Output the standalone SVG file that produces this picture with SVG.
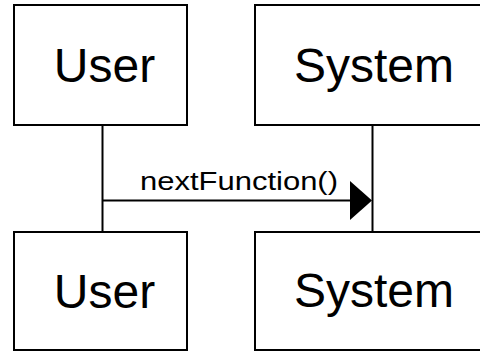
<svg xmlns="http://www.w3.org/2000/svg" width="480" height="352" viewBox="0 0 480 352">
<style>
.box{fill:#fff;stroke:#000;stroke-width:2}
.big{font-family:"Liberation Sans",Arial,sans-serif;font-size:48px;fill:#000;text-anchor:middle}
.lbl{font-family:"Liberation Sans",Arial,sans-serif;font-size:25px;fill:#000}
.line{stroke:#000;stroke-width:2;fill:none}
</style>
<rect width="480" height="352" fill="#fff"/>
<g id="connectors">
<line class="line" x1="102.5" y1="125" x2="102.5" y2="232"/>
<line class="line" x1="372.5" y1="125" x2="372.5" y2="232"/>
<line class="line" x1="102.5" y1="200.5" x2="352" y2="200.5"/>
<polygon points="350,181 372,200.5 350,220" fill="#000"/>
<text class="lbl" x="140" y="190" textLength="198" lengthAdjust="spacingAndGlyphs">nextFunction()</text>
</g>
<g id="user-top">
<rect class="box" x="14" y="5" width="173" height="120"/>
<text class="big" x="104.5" y="82">User</text>
</g>
<g id="system-top">
<rect class="box" x="255" y="5" width="240" height="120"/>
<text class="big" x="374" y="82">System</text>
</g>
<g id="user-bottom">
<rect class="box" x="14" y="232" width="173" height="118"/>
<text class="big" x="104.5" y="308">User</text>
</g>
<g id="system-bottom">
<rect class="box" x="255" y="232" width="240" height="118"/>
<text class="big" x="374" y="307">System</text>
</g>
</svg>
